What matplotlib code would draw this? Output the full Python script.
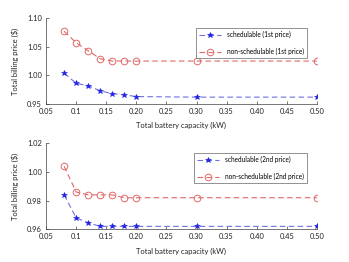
import matplotlib
matplotlib.use("Agg")
import matplotlib.pyplot as plt

capacity = [0.08, 0.10, 0.12, 0.14, 0.16, 0.18, 0.20, 0.30, 0.50]
sched_1st = [1.004, 0.986, 0.982, 0.973, 0.968, 0.966, 0.963, 0.962, 0.962]
nonsched_1st = [1.077, 1.057, 1.043, 1.029, 1.025, 1.025, 1.025, 1.025, 1.025]
sched_2nd = [0.984, 0.968, 0.9645, 0.962, 0.962, 0.962, 0.962, 0.962, 0.962]
nonsched_2nd = [1.004, 0.986, 0.984, 0.984, 0.984, 0.982, 0.982, 0.982, 0.982]

xticks = [0.05, 0.10, 0.15, 0.20, 0.25, 0.30, 0.35, 0.40, 0.45, 0.50]
xticklabels = ["0.05", "0.1", "0.15", "0.20", "0.25", "0.30", "0.35", "0.40", "0.45", "0.50"]
yticks_1 = [0.95, 1.00, 1.05, 1.10]
yticklabels_1 = ["0.95", "1.00", "1.05", "1.10"]
yticks_2 = [0.96, 0.98, 1.00, 1.02]
yticklabels_2 = ["0.96", "0.98", "1.00", "1.02"]

plt.rcParams['font.family'] = ['Lato', 'DejaVu Sans']
fs = 5.4

fig = plt.figure(figsize=(3.49, 2.62), dpi=100)
ax1 = fig.add_axes([0.132, 0.603, 0.776, 0.328])
ax2 = fig.add_axes([0.132, 0.125, 0.776, 0.328])

blue_line = '#7070e0'
blue_mark = '#2020e0'
red_line = '#e06868'

def style(ax, s, ns, yt, ytl, ylim, lab, anchor_y):
    ax.plot(capacity, s, linestyle=(0, (5, 3)), color=blue_line, lw=0.8,
            marker='*', markersize=3.8, markerfacecolor=blue_mark,
            markeredgecolor=blue_mark, markeredgewidth=0.4,
            label='schedulable (%s price)' % lab)
    ax.plot(capacity, ns, linestyle=(0, (5, 3)), color=red_line, lw=0.8,
            marker='o', markersize=4.8, markerfacecolor='none',
            markeredgecolor=red_line, markeredgewidth=0.7,
            label='non-schedulable (%s price)' % lab)
    ax.set_xlim(0.05, 0.50)
    ax.set_ylim(*ylim)
    ax.set_xticks(xticks)
    ax.set_xticklabels(xticklabels, fontsize=fs)
    ax.set_yticks(yt)
    ax.set_yticklabels(ytl, fontsize=fs)
    ax.spines['top'].set_visible(False)
    ax.spines['right'].set_visible(False)
    for sp in ('left', 'bottom'):
        ax.spines[sp].set_color('#404040')
        ax.spines[sp].set_linewidth(0.5)
    ax.tick_params(direction='in', length=2, width=0.5, colors='#404040',
                   labelcolor='#222222', pad=3)
    ax.set_xlabel('Total battery capacity (kW)', fontsize=fs, labelpad=5, color='#222222')
    ax.set_ylabel('Total billing price ($)', fontsize=fs, labelpad=6, color='#222222')
    leg = ax.legend(loc='upper right', bbox_to_anchor=(0.963, anchor_y), fontsize=4.7,
                    frameon=True, fancybox=False, edgecolor='#606060',
                    handlelength=3.4, borderpad=0.45, labelspacing=1.5,
                    handletextpad=0.9, borderaxespad=0)
    leg.get_frame().set_linewidth(0.6)

style(ax1, sched_1st, nonsched_1st, yticks_1, yticklabels_1, (0.95, 1.10), '1st', 0.884)
style(ax2, sched_2nd, nonsched_2nd, yticks_2, yticklabels_2, (0.96, 1.02), '2nd', 0.887)

fig.savefig('out.png', dpi=100)
